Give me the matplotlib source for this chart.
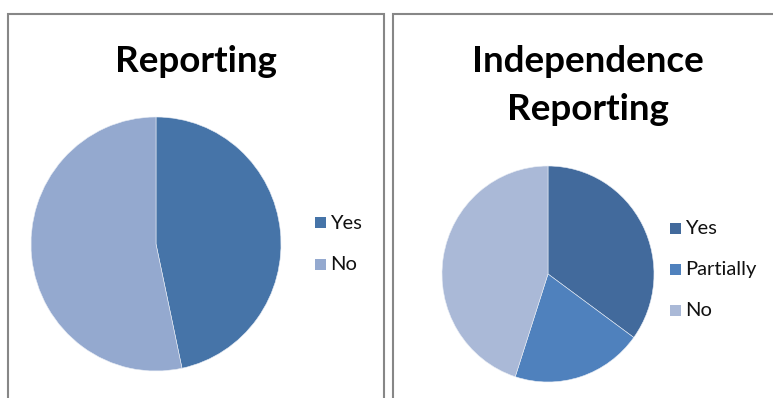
import matplotlib
matplotlib.use('Agg')
import matplotlib.pyplot as plt
from matplotlib.patches import Rectangle

# Survey answers
reporting_labels = ['Yes', 'No']
reporting_counts = [7, 8]

independence_labels = ['Yes', 'Partially', 'No']
independence_counts = [7, 4, 9]

reporting_colors = ['#4674A8', '#94A9CF']
independence_colors = ['#426A9C', '#4F81BD', '#AAB9D7']

W, H = 773, 398
plt.rcParams['font.family'] = ['Lato', 'DejaVu Sans']

fig = plt.figure(figsize=(W / 100, H / 100), dpi=100)


def px_box(x0, y0, x1, y1):
    # pixel box (top-left origin) -> figure fraction [left, bottom, width, height]
    return [x0 / W, (H - y1) / H, (x1 - x0) / W, (y1 - y0) / H]


def frame(x0, y0, x1, y1):
    l, b, w, h = px_box(x0, y0, x1, y1)
    fig.patches.append(Rectangle((l, b), w, h, transform=fig.transFigure,
                                 fill=False, edgecolor='#878787', linewidth=1.5))


def text_at(x, y, s, **kw):
    fig.text(x / W, 1 - y / H, s, **kw)


def draw_pie(box, counts, colors):
    ax = fig.add_axes(px_box(*box))
    ax.pie(counts, colors=colors, startangle=90, counterclock=False,
           wedgeprops=dict(edgecolor='#E8EDF5', linewidth=0.4))
    ax.set_xlim(-1, 1)
    ax.set_ylim(-1, 1)
    ax.set_aspect('auto')
    ax.axis('off')
    return ax


def legend(x, y_first, step, labels, colors):
    for i, (lab, col) in enumerate(zip(labels, colors)):
        y = y_first + i * step
        l, b, w, h = px_box(x, y - 5.5, x + 11, y + 5.5)
        fig.patches.append(Rectangle((l, b), w, h, transform=fig.transFigure,
                                     facecolor=col, edgecolor='none'))
        text_at(x + 15, y + 1, lab, fontsize=14.5, va='center', ha='left',
                color='#111111')


# panel outlines (bottom runs off the image)
frame(8, 14, 384, 420)
frame(393, 14, 800, 420)

# left chart
text_at(196, 72, 'Reporting', fontsize=26.5, fontweight='bold',
        ha='center', va='baseline')
draw_pie((31, 117, 281, 371), reporting_counts, reporting_colors)
legend(315, 222, 42, reporting_labels, reporting_colors)

# right chart
text_at(588, 72, 'Independence', fontsize=26.5, fontweight='bold',
        ha='center', va='baseline')
text_at(588, 120, 'Reporting', fontsize=26.5, fontweight='bold',
        ha='center', va='baseline')
draw_pie((442, 166, 654, 382), independence_counts, independence_colors)
legend(670, 228, 41, independence_labels, independence_colors)

fig.savefig('out.png', dpi=100)
